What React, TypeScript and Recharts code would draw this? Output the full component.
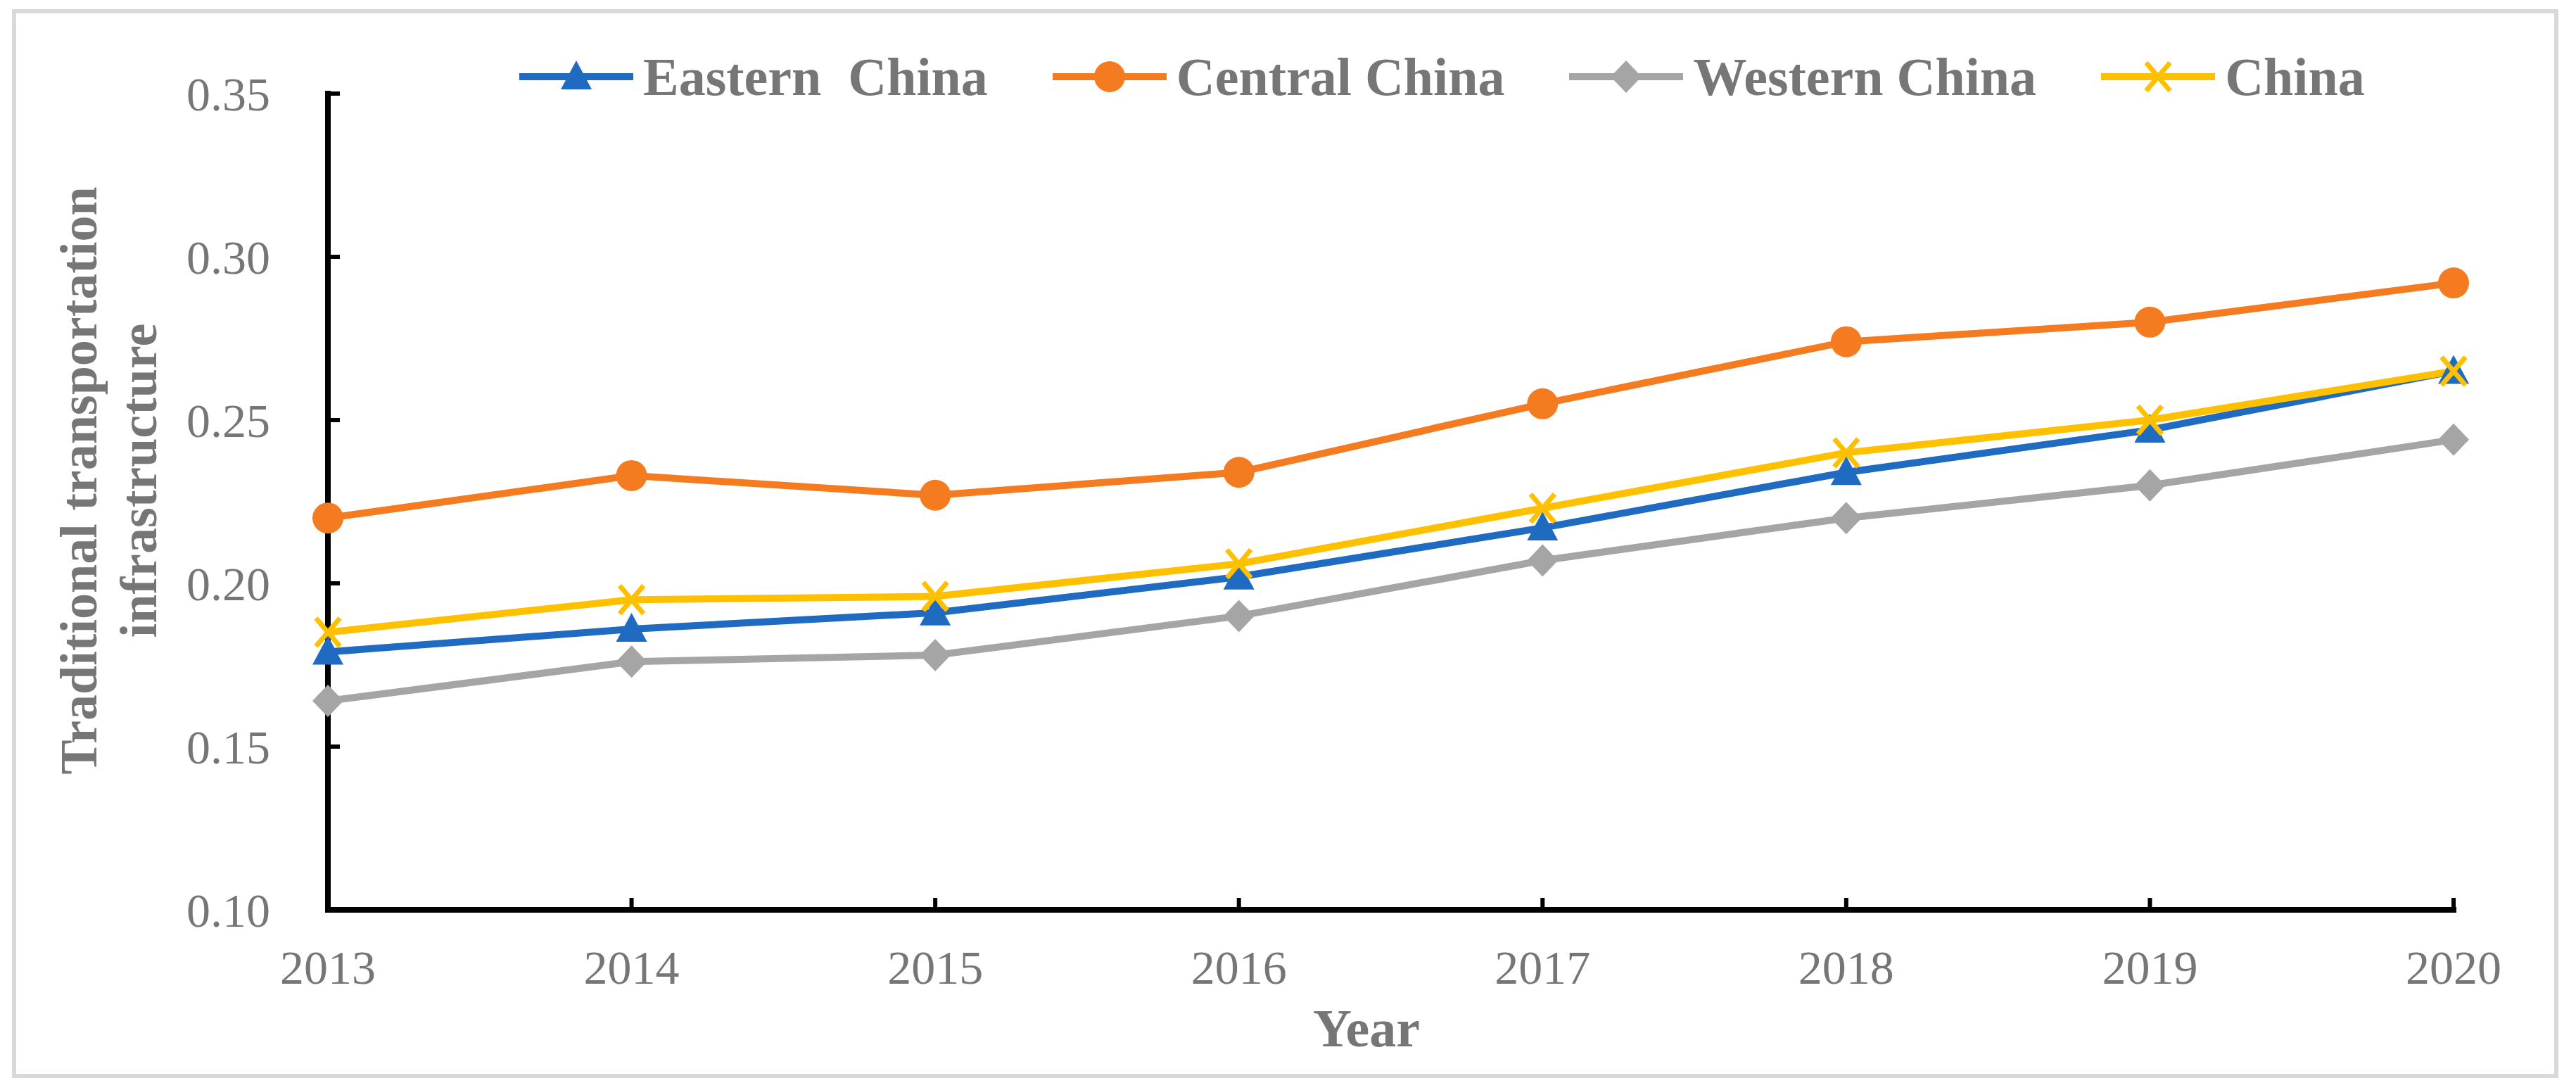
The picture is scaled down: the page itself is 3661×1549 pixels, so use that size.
import React from 'react';
import { LineChart, Line, XAxis, YAxis, Legend } from 'recharts';

const years = ['2013', '2014', '2015', '2016', '2017', '2018', '2019', '2020'];
const eastern = [0.179, 0.186, 0.191, 0.202, 0.217, 0.234, 0.247, 0.265];
const central = [0.220, 0.233, 0.227, 0.234, 0.255, 0.274, 0.280, 0.292];
const western = [0.164, 0.176, 0.178, 0.190, 0.207, 0.220, 0.230, 0.244];
const china = [0.185, 0.195, 0.196, 0.206, 0.223, 0.240, 0.250, 0.265];
const yTicks = [0.1, 0.15, 0.2, 0.25, 0.3, 0.35];

const seriesNames = ['Eastern  China', 'Central China', 'Western China', 'China'];
const seriesKeys = ['eastern', 'central', 'western', 'china'];
const seriesColors = ['#1F6BC1', '#F47B20', '#A5A5A5', '#FFC000'];
const seriesMarkers = ['triangle', 'circle', 'diamond', 'x'];

const data = years.map((y, i) => ({
  year: y,
  eastern: eastern[i],
  central: central[i],
  western: western[i],
  china: china[i],
}));

const FONT = '"Liberation Serif", "Times New Roman", serif';
const TEXT_GRAY = '#767676';

function Marker({ kind, cx, cy, color }: { kind: string; cx: number; cy: number; color: string }) {
  if (kind === 'triangle') {
    return <polygon points={`${cx},${cy - 23} ${cx - 22},${cy + 18} ${cx + 22},${cy + 18}`} fill={color} />;
  }
  if (kind === 'circle') {
    return <circle cx={cx} cy={cy} r={22} fill={color} />;
  }
  if (kind === 'diamond') {
    return <polygon points={`${cx},${cy - 23} ${cx + 22},${cy} ${cx},${cy + 23} ${cx - 22},${cy}`} fill={color} />;
  }
  return (
    <g>
      <line x1={cx - 17} y1={cy - 20} x2={cx + 17} y2={cy + 20} stroke={color} strokeWidth={7} />
      <line x1={cx - 17} y1={cy + 20} x2={cx + 17} y2={cy - 20} stroke={color} strokeWidth={7} />
    </g>
  );
}

const renderLegend = () => (
  <div
    style={{
      display: 'flex',
      alignItems: 'center',
      whiteSpace: 'pre',
      fontFamily: FONT,
      fontWeight: 'bold',
      fontSize: 76,
      color: TEXT_GRAY,
      lineHeight: 1,
    }}
  >
    {seriesNames.map((name, i) => (
      <div key={name} style={{ display: 'flex', alignItems: 'center', marginRight: i < seriesNames.length - 1 ? 92 : 0 }}>
        <svg width={162} height={60} style={{ display: 'block' }}>
          <line x1={0} y1={30} x2={162} y2={30} stroke={seriesColors[i]} strokeWidth={10} />
          <Marker kind={seriesMarkers[i]} cx={81} cy={30} color={seriesColors[i]} />
        </svg>
        <span style={{ marginLeft: 14 }}>{name}</span>
      </div>
    ))}
  </div>
);

const renderYLabel = () => (
  <g>
    <text
      x={137}
      y={683}
      transform="rotate(-90 137 683)"
      textAnchor="middle"
      fontFamily={FONT}
      fontWeight="bold"
      fontSize={74}
      fill={TEXT_GRAY}
    >
      Traditional transportation
    </text>
    <text
      x={222}
      y={683}
      transform="rotate(-90 222 683)"
      textAnchor="middle"
      fontFamily={FONT}
      fontWeight="bold"
      fontSize={74}
      fill={TEXT_GRAY}
    >
      infrastructure
    </text>
  </g>
);

const renderXLabel = () => (
  <text x={1942} y={1487} textAnchor="middle" fontFamily={FONT} fontWeight="bold" fontSize={76} fill={TEXT_GRAY}>
    Year
  </text>
);

export default function App() {
  return (
    <div style={{ position: 'absolute', left: 0, top: 0, width: 3661, height: 1549, background: '#fff' }}>
      <div
        style={{
          position: 'absolute',
          left: 17,
          top: 13,
          width: 3619,
          height: 1519,
          border: '6px solid #D9D9D9',
          boxSizing: 'border-box',
        }}
      />
      <LineChart
        width={3661}
        height={1549}
        data={data}
        margin={{ top: 133, right: 174, bottom: 106, left: 266 }}
        style={{ position: 'absolute', left: 0, top: 0 }}
      >
        <XAxis
          dataKey="year"
          height={150}
          interval={0}
          padding={{ left: 0, right: 0 }}
          axisLine={{ stroke: '#000', strokeWidth: 8, strokeLinecap: 'square' }}
          tickLine={{ stroke: '#000', strokeWidth: 6 }}
          tickSize={-17}
          tickMargin={74}
          tick={{ fontFamily: FONT, fontSize: 68, fill: TEXT_GRAY }}
          label={{ content: renderXLabel }}
        />
        <YAxis
          type="number"
          width={200}
          domain={[0.1, 0.35]}
          ticks={yTicks}
          interval={0}
          allowDataOverflow
          tickFormatter={(v: number) => v.toFixed(2)}
          axisLine={{ stroke: '#000', strokeWidth: 8, strokeLinecap: 'square' }}
          tickLine={{ stroke: '#000', strokeWidth: 6 }}
          tickSize={-17}
          tickMargin={99}
          tick={{ fontFamily: FONT, fontSize: 68, fill: TEXT_GRAY }}
          label={{ content: renderYLabel }}
        />
        <Legend
          content={renderLegend}
          layout="horizontal"
          verticalAlign="middle"
          align="center"
          wrapperStyle={{ left: 738, top: 71, width: 'auto' }}
        />
        {seriesKeys.map((key, i) => (
          <Line
            key={key}
            type="linear"
            dataKey={key}
            name={seriesNames[i]}
            stroke={seriesColors[i]}
            strokeWidth={10}
            isAnimationActive={false}
            activeDot={false}
            dot={(props: any) => (
              <Marker
                key={`${key}-${props.index}`}
                kind={seriesMarkers[i]}
                cx={props.cx}
                cy={props.cy}
                color={seriesColors[i]}
              />
            )}
          />
        ))}
      </LineChart>
    </div>
  );
}
